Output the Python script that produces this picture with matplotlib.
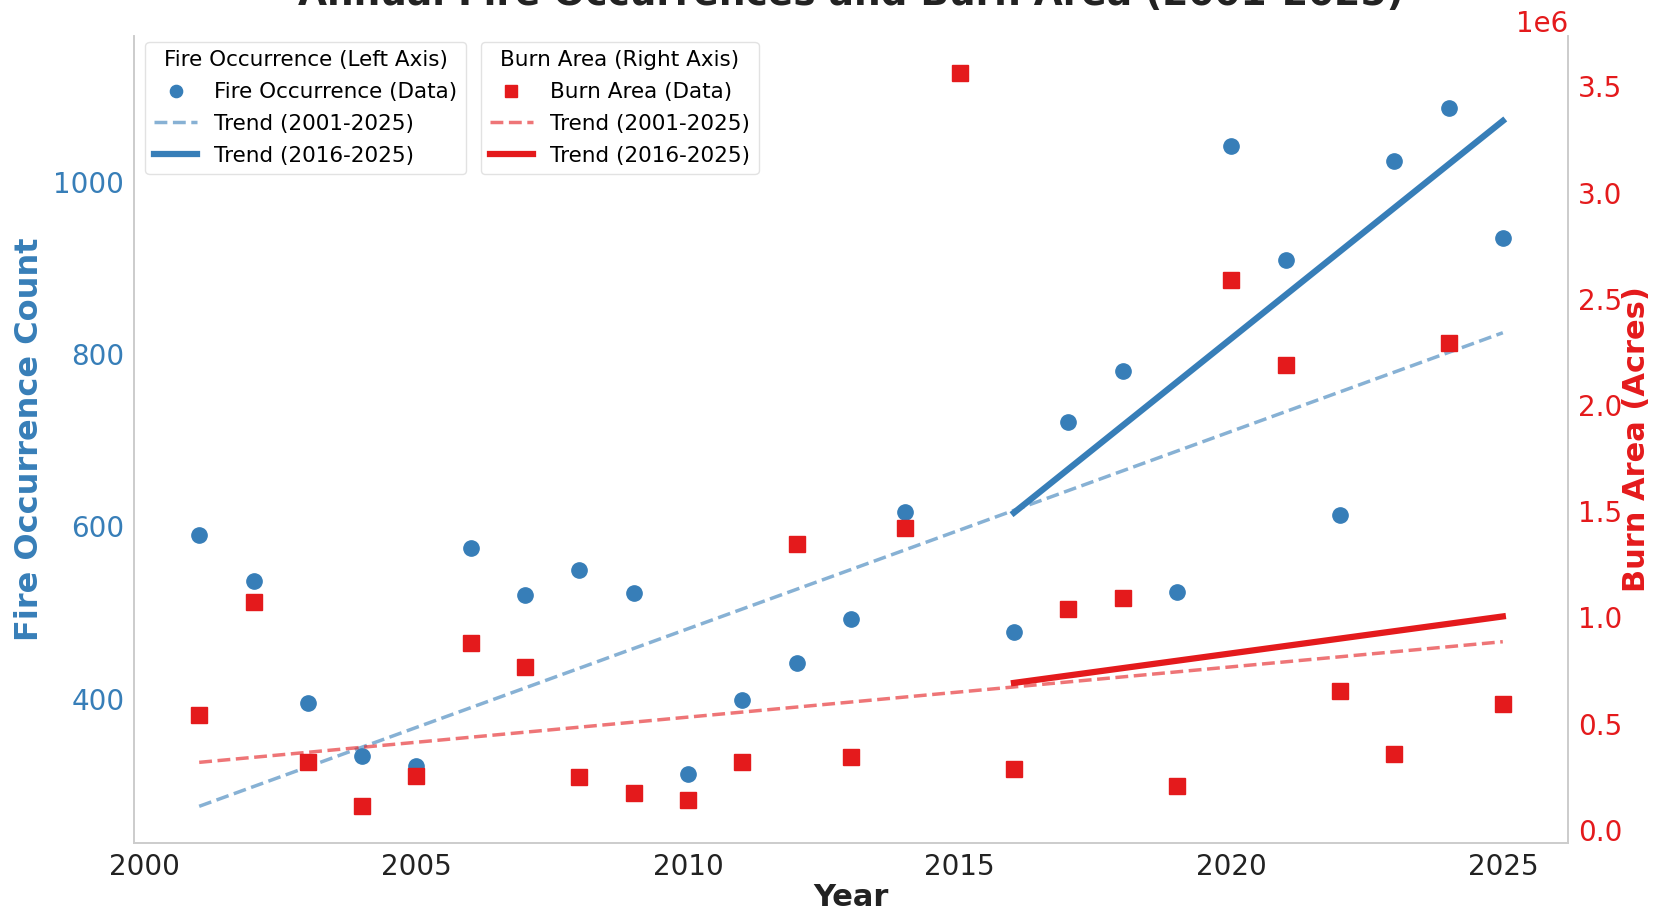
import matplotlib
matplotlib.use("Agg")
import matplotlib.pyplot as plt

# Annual fire counts and burn area, 2001-2025
years = [2001, 2002, 2003, 2004, 2005, 2006, 2007, 2008, 2009, 2010, 2011, 2012, 2013,
         2014, 2015, 2016, 2017, 2018, 2019, 2020, 2021, 2022, 2023, 2024, 2025]
fire_counts = [590, 537, 395, 334, 322, 575, 520, 549, 523, 312, 398, 442, 492,
               617, 1127, 477, 721, 780, 524, 1042, 909, 613, 1025, 1086, 935]
burn_area = [0.539e6, 1.075e6, 0.322e6, 0.111e6, 0.256e6, 0.882e6, 0.769e6, 0.247e6,
             0.172e6, 0.139e6, 0.318e6, 1.344e6, 0.341e6, 1.419e6, 3.565e6, 0.289e6,
             1.038e6, 1.094e6, 0.205e6, 2.59e6, 2.19e6, 0.652e6, 0.355e6, 2.29e6, 0.595e6]

# trend line end points (full period and recent decade)
trend_all_years = [2001, 2025]
fire_trend_all = [275, 825]
burn_trend_all = [0.318e6, 0.886e6]
trend_recent_years = [2016, 2025]
fire_trend_recent = [616, 1071]
burn_trend_recent = [0.692e6, 1.005e6]

BLUE = "#377eb8"
RED = "#e41a1c"
SPINE = "#cccccc"

W, H = 1657, 914
fig = plt.figure(figsize=(W / 100, H / 100), dpi=100)
ax1 = fig.add_axes([134 / W, (H - 843) / H, 1434 / W, 807 / H])
ax2 = ax1.twinx()

# left axis: fire occurrence
p1, = ax1.plot(years, fire_counts, "o", color=BLUE, ms=11, label="Fire Occurrence (Data)")
l1, = ax1.plot(trend_all_years, fire_trend_all, "--", color=BLUE, lw=2.5, alpha=0.6,
               label="Trend (2001-2025)")
l2, = ax1.plot(trend_recent_years, fire_trend_recent, "-", color=BLUE, lw=4.5,
               label="Trend (2016-2025)")

# right axis: burn area
p2, = ax2.plot(years, burn_area, "s", color=RED, ms=11, label="Burn Area (Data)")
l3, = ax2.plot(trend_all_years, burn_trend_all, "--", color=RED, lw=2.5, alpha=0.6,
               label="Trend (2001-2025)")
l4, = ax2.plot(trend_recent_years, burn_trend_recent, "-", color=RED, lw=4.5,
               label="Trend (2016-2025)")

for ax in (ax1, ax2):
    for side in ("left", "right", "bottom"):
        ax.spines[side].set_color(SPINE)
        ax.spines[side].set_linewidth(1.2)
    ax.spines["top"].set_visible(False)
    ax.tick_params(length=0, pad=7, labelsize=20)

ax1.set_xticks([2000, 2005, 2010, 2015, 2020, 2025])
ax1.tick_params(axis="x", colors="#222222")
ax1.tick_params(axis="y", colors=BLUE)
ax2.tick_params(axis="y", colors=RED)
ax2.yaxis.get_offset_text().set_color(RED)
ax2.yaxis.get_offset_text().set_fontsize(20)

ax1.set_xlabel("Year", fontsize=22, fontweight="bold", color="#222222", labelpad=2)
ax1.set_ylabel("Fire Occurrence Count", fontsize=23, fontweight="bold", color=BLUE, labelpad=6)
ax2.set_ylabel("Burn Area (Acres)", fontsize=22, fontweight="bold", color=RED, labelpad=0)
ax1.set_title("Annual Fire Occurrences and Burn Area (2001-2025)", fontsize=27,
              fontweight="bold", color="#222222", pad=22)

leg_kw = dict(loc="upper left", borderaxespad=0, fontsize=15.5, title_fontsize=15.5,
              frameon=True, framealpha=0.85, edgecolor="#dddddd", markerscale=0.8,
              labelspacing=0.55)
leg1 = ax2.legend(handles=[p1, l1, l2], title="Fire Occurrence (Left Axis)",
                  bbox_to_anchor=(0.008, 0.993), **leg_kw)
ax2.add_artist(leg1)
ax2.legend(handles=[p2, l3, l4], title="Burn Area (Right Axis)",
           bbox_to_anchor=(0.242, 0.993), **leg_kw)

fig.savefig("out.png", dpi=100)
